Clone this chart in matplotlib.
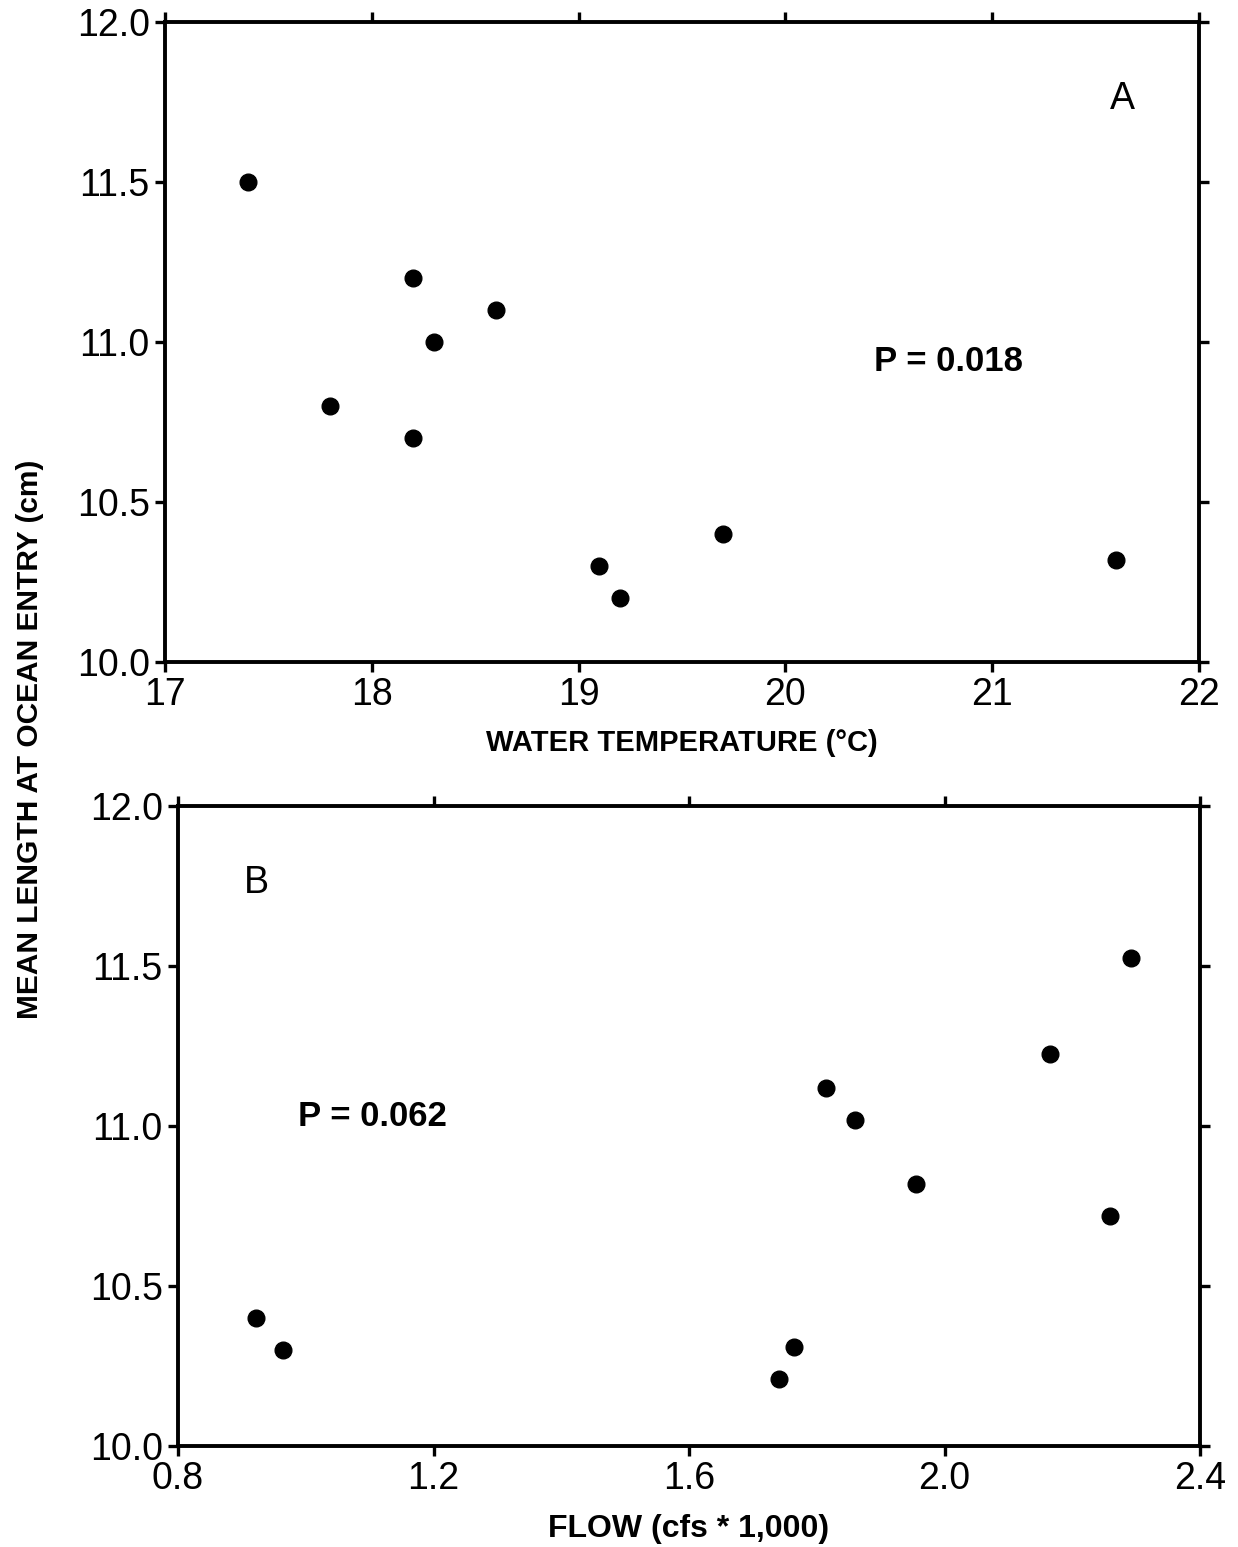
import matplotlib
matplotlib.use("Agg")
import matplotlib.pyplot as plt

# panel A: water temperature vs mean length
temp_c = [17.4, 18.2, 18.6, 18.3, 17.8, 18.2, 19.1, 19.2, 19.7, 21.6]
length_a = [11.5, 11.2, 11.1, 11.0, 10.8, 10.7, 10.3, 10.2, 10.4, 10.32]

# panel B: flow vs mean length
flow_k = [0.922, 0.964, 1.741, 1.764, 1.814, 1.860, 1.955, 2.165, 2.259, 2.292]
length_b = [10.40, 10.30, 10.21, 10.31, 11.12, 11.02, 10.82, 11.225, 10.72, 11.525]

temp_ticks = [17, 18, 19, 20, 21, 22]
flow_ticks = [0.8, 1.2, 1.6, 2.0, 2.4]
y_ticks = [10.0, 10.5, 11.0, 11.5, 12.0]

plt.rcParams["font.family"] = ["Liberation Sans", "DejaVu Sans"]

fig = plt.figure(figsize=(12.38, 15.47), dpi=100)
ax_a = fig.add_axes([0.1333, 0.5721, 0.8352, 0.4137])
ax_b = fig.add_axes([0.1438, 0.0653, 0.8255, 0.4137])


def style(ax):
    for s in ax.spines.values():
        s.set_linewidth(2.8)
    ax.tick_params(direction="out", length=7, width=2.4, labelsize=27,
                   top=True, right=True, pad=4)
    ax.set_yticks(y_ticks)
    ax.set_yticklabels([f"{v:.1f}" for v in y_ticks])
    ax.set_ylim(10.0, 12.0)


ax_a.plot(temp_c, length_a, "o", color="black", markersize=12)
style(ax_a)
ax_a.set_xlim(17, 22)
ax_a.set_xticks(temp_ticks)
ax_a.set_xticklabels([str(t) for t in temp_ticks])
ax_a.set_xlabel("WATER TEMPERATURE (\u00b0C)", fontsize=21, fontweight="bold",
                labelpad=11)
ax_a.text(20.43, 10.94, "P = 0.018", fontsize=25, ha="left", va="center",
          fontweight="bold")
ax_a.text(21.63, 11.76, "A", fontsize=27, ha="center", va="center")

ax_b.plot(flow_k, length_b, "o", color="black", markersize=12)
style(ax_b)
ax_b.set_xlim(0.8, 2.4)
ax_b.set_xticks(flow_ticks)
ax_b.set_xticklabels([f"{t:.1f}" for t in flow_ticks])
ax_b.set_xlabel("FLOW (cfs * 1,000)", fontsize=23, fontweight="bold", labelpad=12)
ax_b.text(0.988, 11.03, "P = 0.062", fontsize=25, ha="left", va="center",
          fontweight="bold")
ax_b.text(0.922, 11.76, "B", fontsize=27, ha="center", va="center")

fig.text(0.024, 0.522, "MEAN LENGTH AT OCEAN ENTRY (cm)", rotation=90,
         fontsize=21.5, fontweight="bold", ha="center", va="center")

fig.savefig("out.png", dpi=100)
